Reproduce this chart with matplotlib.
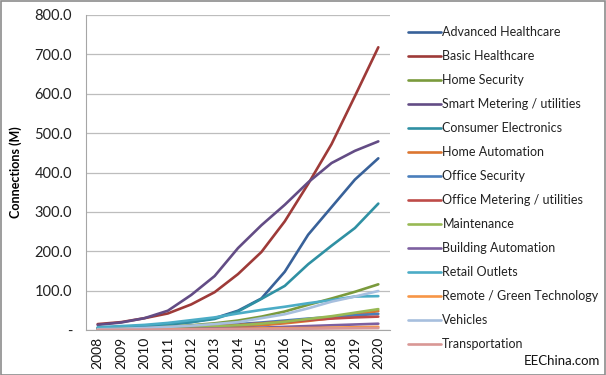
import matplotlib
matplotlib.use("Agg")
import matplotlib.pyplot as plt
from matplotlib.patches import Rectangle

years = ["2008", "2009", "2010", "2011", "2012", "2013", "2014",
         "2015", "2016", "2017", "2018", "2019", "2020"]

advanced_healthcare = [5, 8, 10, 14, 20, 30, 49, 80, 148, 242, 312, 382, 436]
basic_healthcare = [15, 20, 30, 42, 65, 96, 142, 198, 276, 371, 472, 594, 718]
home_security = [3, 5, 7, 9, 12, 17, 24, 34, 47, 64, 80, 97, 116]
smart_metering = [13, 19, 30, 49, 89, 137, 208, 266, 318, 375, 424, 455, 479]
consumer_electronics = [5, 8, 11, 15, 20, 28, 47, 79, 112, 167, 214, 259, 321]
home_automation = [1, 2, 3, 4, 5, 7, 9, 12, 17, 23, 30, 39, 48]
office_security = [3, 4, 5, 7, 9, 12, 15, 19, 24, 29, 33, 37, 41]
office_metering = [2, 3, 4, 6, 8, 10, 13, 17, 21, 25, 29, 32, 34]
maintenance = [2, 3, 4, 5, 7, 9, 12, 16, 21, 28, 35, 44, 53]
building_automation = [1, 1, 2, 2, 3, 4, 5, 6, 8, 10, 12, 14, 16]
retail_outlets = [7, 10, 13, 18, 25, 32, 42, 51, 59, 68, 76, 85, 86]
remote_green = [0.5, 1, 1, 1.5, 2, 2.5, 3, 4, 4.5, 5, 6, 7, 8]
vehicles = [2, 3, 5, 8, 11, 15, 20, 30, 40, 55, 72, 85, 99]
transportation = [0.5, 0.5, 1, 1, 1.5, 2, 2, 2.5, 3, 3.5, 4, 4.5, 5]

series_names = ["Advanced Healthcare", "Basic Healthcare", "Home Security",
                "Smart Metering / utilities", "Consumer Electronics",
                "Home Automation", "Office Security", "Office Metering / utilities",
                "Maintenance", "Building Automation", "Retail Outlets",
                "Remote / Green Technology", "Vehicles", "Transportation"]
series_values = [advanced_healthcare, basic_healthcare, home_security, smart_metering,
                 consumer_electronics, home_automation, office_security, office_metering,
                 maintenance, building_automation, retail_outlets, remote_green,
                 vehicles, transportation]
colors = ["#386199", "#9E3A38", "#7A9A3C", "#634C85", "#2F90A3", "#DC7630",
          "#4A7EBB", "#BE4B48", "#98B954", "#7D60A0", "#4BACC6", "#F79646",
          "#A7BFDE", "#D99795"]

yticks = [0, 100, 200, 300, 400, 500, 600, 700, 800]
ytick_labels = ["-", "100.0", "200.0", "300.0", "400.0", "500.0", "600.0", "700.0", "800.0"]

W, H = 606, 375
fig = plt.figure(figsize=(W / 100, H / 100), dpi=100)
fig.patch.set_facecolor("white")
plt.rcParams['font.family'] = ['Lato', 'DejaVu Sans']

ax = fig.add_axes([86 / W, 1 - 330 / H, (390 - 86) / W, (330 - 15) / H])
x = list(range(len(years)))
for name, vals, c in zip(series_names, series_values, colors):
    ax.plot(x, vals, color=c, lw=1.9, label=name, solid_capstyle="round")

ax.set_xlim(-0.5, len(years) - 0.5)
ax.set_ylim(0, 800)
ax.set_yticks(yticks)
ax.set_yticklabels(ytick_labels, fontsize=10.5, color="#222222")
ax.set_xticks(x)
ax.set_xticklabels(years, rotation=90, fontsize=10, color="#111111")
ax.tick_params(axis="y", length=0, pad=10)
ax.tick_params(axis="x", length=0, pad=5)
ax.grid(axis="y", color="#BDBDBD", lw=0.9)
ax.set_axisbelow(True)
for s in ["top", "right"]:
    ax.spines[s].set_visible(False)
ax.spines["left"].set_color("#A6A6A6")
ax.spines["bottom"].set_color("#A6A6A6")
ax.set_ylabel("Connections (M)", fontsize=9, fontweight="bold", labelpad=9)

handles, labels = ax.get_legend_handles_labels()
leg = fig.legend(handles, labels, loc="upper left", bbox_to_anchor=(403 / W, 1 - 21 / H),
                 frameon=False, fontsize=9, handlelength=2.6, handletextpad=0.15,
                 labelspacing=0.96, borderaxespad=0)
for t in leg.get_texts():
    t.set_color("#222222")

fig.text(600 / W, 1 - 361 / H, "EEChina.com", fontsize=9.5, ha="right", va="center",
         color="#111111")

fig.patches.append(Rectangle((0.5 / W, 0.5 / H), 1 - 1.5 / W, 1 - 1.5 / H,
                             transform=fig.transFigure, fill=False,
                             edgecolor="#8C8C8C", lw=1.2))

fig.savefig("out.png", dpi=100)
